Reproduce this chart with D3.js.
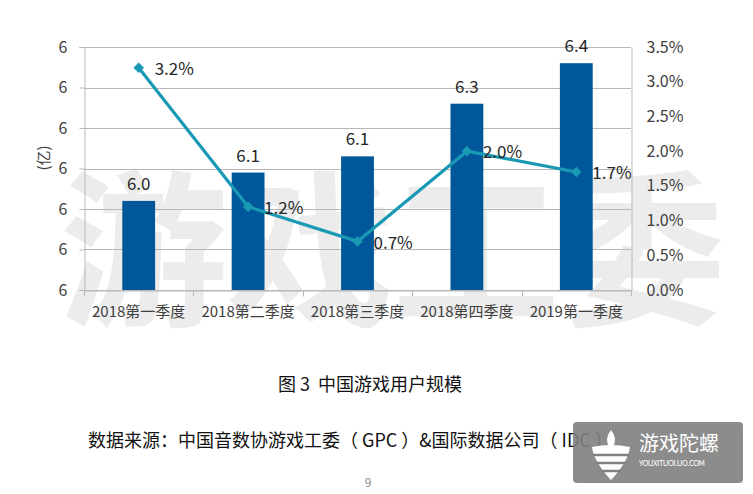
<!DOCTYPE html>
<html>
<head>
<meta charset="utf-8">
<script src="https://cdn.jsdelivr.net/npm/d3@7"></script>
<style>
  html, body { margin: 0; padding: 0; background: #ffffff; }
  svg { display: block; }
  text { font-family: "Noto Sans CJK SC", "Noto Sans", sans-serif; white-space: pre; }
</style>
</head>
<body>
<svg id="chart" width="753" height="494"></svg>
<script>
// ---------------- data ----------------
const categories = ["2018第一季度", "2018第二季度", "2018第三季度", "2018第四季度", "2019第一季度"];
const users = [6.02, 6.09, 6.13, 6.26, 6.36];          // 亿
const growth = [0.032, 0.012, 0.007, 0.020, 0.017];     // 环比增长率
const leftTicks = [5.8, 5.9, 6.0, 6.1, 6.2, 6.3, 6.4];
const rightTicks = [0, 0.005, 0.01, 0.015, 0.02, 0.025, 0.03, 0.035];
const yTitle = "(亿)";
const chartTitle = "图 3  中国游戏用户规模";
const sourceText = "数据来源：中国音数协游戏工委（ GPC ）&国际数据公司（ IDC ）";
const watermark = "游戏工委";
const pageNumber = "9";
const logoCN = "游戏陀螺";
const logoEN = "YOUXITUOLUO.COM";

// ---------------- layout ----------------
const svg = d3.select("#chart");
const plot = { left: 84, right: 631, top: 47, bottom: 290 };
const barColor = "#00589b";
const lineColor = "#1a99b4";
const gridColor = "#b8b8b8";
const axisText = "#404040";

const x = d3.scaleBand().domain(categories).range([plot.left, plot.right]);
const yL = d3.scaleLinear().domain([5.8, 6.4]).range([plot.bottom, plot.top]);
const yR = d3.scaleLinear().domain([0, 0.035]).range([plot.bottom, plot.top]);

// watermark (behind everything)
svg.append("text")
  .attr("x", 392).attr("y", 313)
  .attr("text-anchor", "middle")
  .attr("font-size", 168)
  .attr("font-weight", 700)
  .attr("fill", "#ececec")
  .attr("letter-spacing", -2)
  .text(watermark);

// gridlines
svg.append("g").selectAll("line").data(leftTicks).join("line")
  .attr("x1", plot.left).attr("x2", plot.right)
  .attr("y1", d => Math.round(yL(d)) + 0.5).attr("y2", d => Math.round(yL(d)) + 0.5)
  .attr("stroke", gridColor).attr("stroke-width", 1);

// left axis
const leftAxis = svg.append("g")
  .attr("transform", `translate(${plot.left + 0.5},0)`)
  .call(d3.axisLeft(yL).tickValues(leftTicks).tickFormat(d3.format(".0f")).tickSizeOuter(0).tickSize(5).tickPadding(12));
leftAxis.select(".domain").attr("stroke", gridColor);
leftAxis.selectAll(".tick line").attr("stroke", gridColor);
leftAxis.selectAll("text").attr("font-size", 16).attr("fill", axisText)
  .attr("font-family", "'Noto Sans CJK SC', sans-serif");

// right axis
const rightAxis = svg.append("g")
  .attr("transform", `translate(${plot.right + 0.5},0)`)
  .call(d3.axisRight(yR).tickValues(rightTicks).tickFormat(d3.format(".1%")).tickSizeOuter(0).tickSize(0).tickPadding(15));
rightAxis.select(".domain").attr("stroke", gridColor);
rightAxis.selectAll("text").attr("font-size", 16).attr("fill", axisText)
  .attr("font-family", "'Noto Sans CJK SC', sans-serif");

// bottom axis
const bottomAxis = svg.append("g")
  .attr("transform", `translate(0,${plot.bottom + 0.5})`)
  .call(d3.axisBottom(x).tickSize(0).tickPadding(0));
bottomAxis.select(".domain").attr("stroke", gridColor);
bottomAxis.selectAll(".tick text").attr("font-size", 15).attr("fill", axisText)
  .attr("y", 26).attr("dy", 0);
// category boundary ticks
const bounds = categories.map(c => x(c)).concat([plot.right]);
bottomAxis.selectAll(".bound").data(bounds).join("line")
  .attr("class", "bound")
  .attr("x1", d => Math.round(d) + 0.5).attr("x2", d => Math.round(d) + 0.5)
  .attr("y1", 0).attr("y2", 6)
  .attr("stroke", gridColor);

// y title
svg.append("text")
  .attr("transform", "translate(49,158) rotate(-90)")
  .attr("text-anchor", "middle")
  .attr("font-size", 15).attr("fill", axisText)
  .text(yTitle);

// bars
const barW = x.bandwidth() * 0.3;
svg.append("g").selectAll("rect").data(users).join("rect")
  .attr("x", (d, i) => x(categories[i]) + x.bandwidth() / 2 - barW / 2)
  .attr("width", barW)
  .attr("y", d => yL(d))
  .attr("height", d => plot.bottom - yL(d))
  .attr("fill", barColor);

// bar labels
svg.append("g").selectAll("text").data(users).join("text")
  .attr("x", (d, i) => x(categories[i]) + x.bandwidth() / 2)
  .attr("y", d => yL(d) - 11)
  .attr("text-anchor", "middle")
  .attr("font-size", 17).attr("fill", "#262626")
  .text(d => d3.format(".1f")(d));

// line
const cx = (i) => x(categories[i]) + x.bandwidth() / 2;
const line = d3.line().x((d, i) => cx(i)).y(d => yR(d));
svg.append("path").datum(growth)
  .attr("d", line)
  .attr("fill", "none")
  .attr("stroke", lineColor)
  .attr("stroke-width", 3.2)
  .attr("stroke-linejoin", "round");

// markers
svg.append("g").selectAll("path").data(growth).join("path")
  .attr("d", d3.symbol(d3.symbolSquare, 56))
  .attr("transform", (d, i) => `translate(${cx(i)},${yR(d)}) rotate(45)`)
  .attr("fill", lineColor);

// line labels
svg.append("g").selectAll("text").data(growth).join("text")
  .attr("x", (d, i) => cx(i) + 16)
  .attr("y", d => yR(d) + 1)
  .attr("dy", "0.36em")
  .attr("font-size", 17).attr("fill", "#262626")
  .text(d => d3.format(".1%")(d));

// title & source
svg.append("text")
  .attr("x", 370).attr("y", 391)
  .attr("text-anchor", "middle")
  .attr("font-size", 18).attr("fill", "#111")
  .text(chartTitle);

svg.append("text")
  .attr("x", 88).attr("y", 447)
  .attr("font-size", 18).attr("fill", "#111")
  .text(sourceText);

svg.append("text")
  .attr("x", 368).attr("y", 487)
  .attr("text-anchor", "middle")
  .attr("font-size", 12).attr("fill", "#888")
  .text(pageNumber);

// logo
const logo = svg.append("g");
logo.append("rect")
  .attr("x", 573).attr("y", 422).attr("width", 170).attr("height", 61).attr("rx", 4)
  .attr("fill", "rgb(128,128,128)").attr("fill-opacity", 0.9);
// icon: spinning top
logo.append("path")
  .attr("d", "M592,447 Q611,443 630,447 Q628,462 611,480 Q594,462 592,447 Z")
  .attr("fill", "#fff");
logo.append("path")
  .attr("d", "M593,455 L629,455 M596,463 L626,463 M601,471 L621,471")
  .attr("stroke", "rgb(128,128,128)").attr("stroke-width", 2.5);
logo.append("path")
  .attr("d", "M611,430 Q605,438 608,445 L614,445 Q617,438 611,430 Z")
  .attr("fill", "#fff");
logo.append("text")
  .attr("x", 639).attr("y", 451)
  .attr("font-size", 20).attr("fill", "#fff")
  .text(logoCN);
logo.append("text")
  .attr("x", 639).attr("y", 466)
  .attr("font-size", 8).attr("fill", "#fff")
  .attr("letter-spacing", -0.6)
  .attr("font-family", "'Liberation Sans', sans-serif")
  .text(logoEN);
</script>
</body>
</html>
